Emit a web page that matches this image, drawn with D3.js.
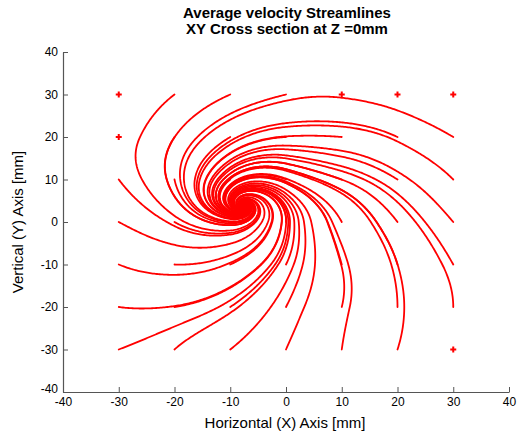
<!DOCTYPE html>
<html><head><meta charset="utf-8">
<script src="https://cdn.jsdelivr.net/npm/d3@7"></script>
<style>body{margin:0;background:#fff} text{font-family:"Liberation Sans",Arial,Helvetica,sans-serif}</style>
</head><body><svg id="chart" width="520" height="434"></svg>
<script>
// measurement grid (mm) and seed points
const gridX = [-30, -20, -10, 0, 10, 20, 30];
const gridY = [-30, -20, -10, 0, 10, 20, 30];
// average velocity direction (degrees, CCW from +X); rows y=-30..30, cols x=-30..30
const flowAngle = [
  [ 27,  50,  46,  71,  84,  76,  80],
  [350,  11,  41,  69,  79,  90,  90],
  [331, 357,  31,  69, 102, 103, 113],
  [325, 323, 355,  88, 112, 120, 123],
  [300, 279, 226, 153, 155, 140, 127],
  [255, 243, 218, 184, 174, 148, 142],
  [241, 225, 210, 198, 171, 158, 150]
];
// average velocity magnitude (relative)
const flowSpeed = [
  [10, 10, 10, 10, 10, 10, 10],
  [10, 10, 10, 10, 10, 10, 10],
  [10, 10,  9,  9, 10, 10, 10],
  [10,  8, 4.6, 8.7, 10, 10, 10],
  [10,  8, 6.4, 9.8, 10, 10, 10],
  [10, 10, 10, 10, 10, 10, 10],
  [10, 10, 10, 10, 10, 10, 10]
];
const axisTicks = [-40, -30, -20, -10, 0, 10, 20, 30, 40];
const titleLines = ["Average velocity Streamlines", "XY Cross section at Z =0mm"];
const xLabel = "Horizontal (X) Axis [mm]";
const yLabel = "Vertical (Y) Axis [mm]";

const svg = d3.select("#chart");
const x = d3.scaleLinear().domain([-40, 40]).range([63, 509]);
const y = d3.scaleLinear().domain([-40, 40]).range([392, 52]);

const nx = gridX.length, ny = gridY.length;
const U = flowAngle.map((row, j) => row.map((a, i) => flowSpeed[j][i] * Math.cos(a * Math.PI / 180)));
const V = flowAngle.map((row, j) => row.map((a, i) => flowSpeed[j][i] * Math.sin(a * Math.PI / 180)));
const cdx = gridX[1] - gridX[0], cdy = gridY[1] - gridY[0];
function vel(px, py) {
  if (px < gridX[0] || px > gridX[nx - 1] || py < gridY[0] || py > gridY[ny - 1]) return null;
  const i = Math.min(Math.floor((px - gridX[0]) / cdx), nx - 2);
  const j = Math.min(Math.floor((py - gridY[0]) / cdy), ny - 2);
  const s = (px - gridX[i]) / cdx, t = (py - gridY[j]) / cdy;
  const bil = A => (1 - s) * (1 - t) * A[j][i] + s * (1 - t) * A[j][i + 1] + (1 - s) * t * A[j + 1][i] + s * t * A[j + 1][i + 1];
  return [bil(U), bil(V)];
}
function trace(x0, y0) {
  const pts = [[x0, y0]];
  let px = x0, py = y0;
  for (let k = 0; k < 6000; k++) {
    const v = vel(px, py); if (!v) break;
    const sp = Math.hypot(v[0], v[1]); if (sp < 0.2) break;
    const h = Math.min(0.25, 0.12 * sp);
    const mx = px + 0.5 * h * v[0] / sp, my = py + 0.5 * h * v[1] / sp;
    const vm = vel(mx, my); if (!vm) break;
    const sm = Math.hypot(vm[0], vm[1]); if (sm < 1e-6) break;
    const qx = px + h * vm[0] / sm, qy = py + h * vm[1] / sm;
    if (!vel(qx, qy)) break;
    px = qx; py = qy; pts.push([px, py]);
  }
  return pts;
}

const seeds = [];
gridY.forEach(gy => gridX.forEach(gx => seeds.push([gx, gy])));
const lines = seeds.map(s => trace(s[0], s[1]));

const line = d3.line().x(d => x(d[0])).y(d => y(d[1]));
const g = svg.append("g");
g.selectAll("path.sl").data(lines.filter(l => l.length > 1)).join("path")
  .attr("class", "sl").attr("d", line)
  .attr("fill", "none").attr("stroke", "#ff0000").attr("stroke-width", 1.8)
  .attr("stroke-linejoin", "round").attr("stroke-linecap", "round");
g.selectAll("path.dot").data(lines.filter(l => l.length === 1)).join("path")
  .attr("class", "dot")
  .attr("transform", d => `translate(${x(d[0][0])},${y(d[0][1])})`)
  .attr("d", d3.symbol().type(d3.symbolCross).size(20))
  .attr("fill", "#ff0000");

// axes
const fmt = d => String(d);
const xa = svg.append("g").attr("transform", "translate(0,392)")
  .call(d3.axisBottom(x).tickValues(axisTicks).tickFormat(fmt).tickSizeInner(-5).tickSizeOuter(0).tickPadding(5));
const ya = svg.append("g").attr("transform", "translate(63,0)")
  .call(d3.axisLeft(y).tickValues(axisTicks).tickFormat(fmt).tickSizeInner(-5).tickSizeOuter(0).tickPadding(5));
[xa, ya].forEach(a => {
  a.select(".domain").attr("stroke", "#555").attr("stroke-width", 1.2);
  a.selectAll(".tick line").attr("stroke", "#555");
  a.selectAll(".tick text").attr("fill", "#000").style("font-size", "12px")
    .style("font-family", '"Liberation Sans", Arial, sans-serif');
});
ya.selectAll(".tick text").filter(d => d === -40).attr("dy", "0.0em");

svg.append("text").attr("x", 285).attr("y", 428).attr("text-anchor", "middle")
  .style("font-size", "15px").attr("fill", "#000").text(xLabel);
svg.append("text").attr("transform", "translate(23,222) rotate(-90)").attr("text-anchor", "middle")
  .style("font-size", "15px").attr("fill", "#000").text(yLabel);
svg.selectAll("text.title").data(titleLines).join("text").attr("class", "title")
  .attr("x", 287).attr("y", (d, i) => 18 + i * 16).attr("text-anchor", "middle")
  .style("font-size", "15px").style("font-weight", "bold").attr("fill", "#000").text(d => d);
</script></body></html>
